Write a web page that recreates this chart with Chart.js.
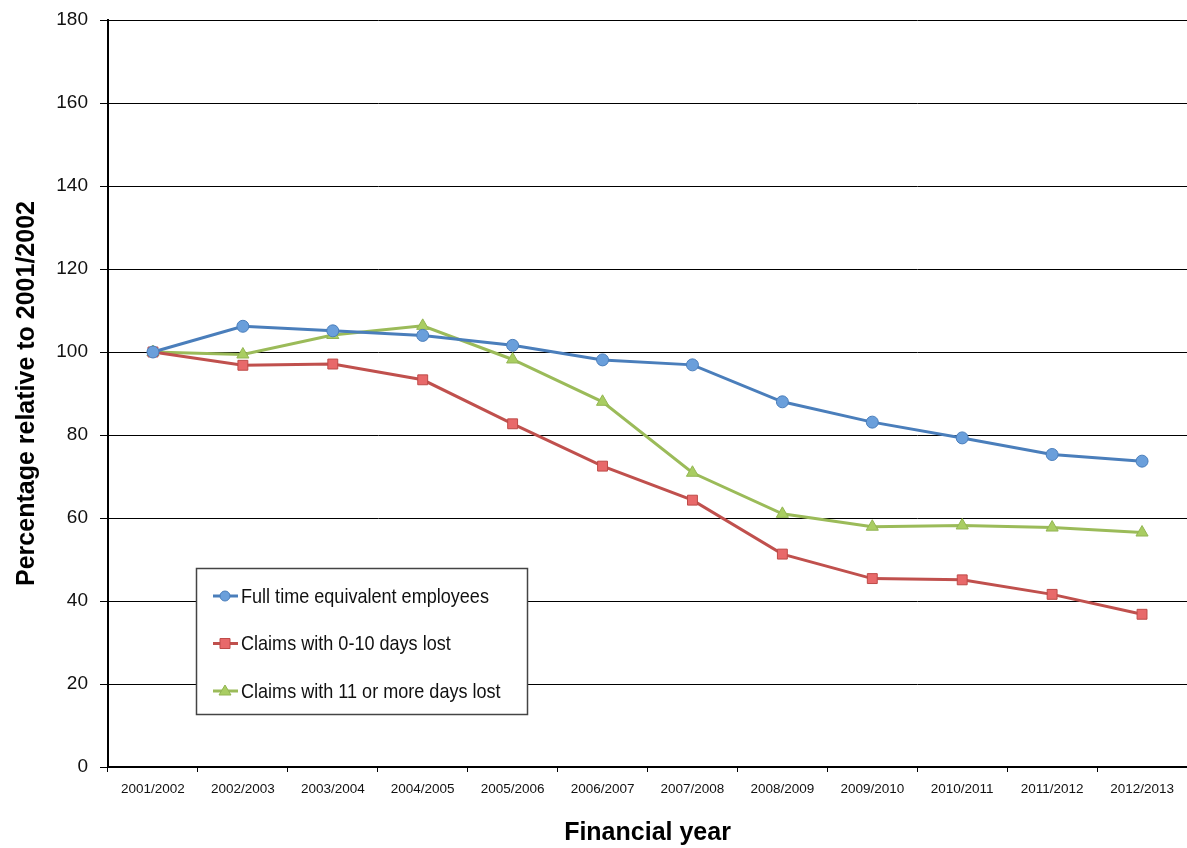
<!DOCTYPE html>
<html>
<head>
<meta charset="utf-8">
<script src="https://cdn.jsdelivr.net/npm/chart.js@4"></script>
<style>
  html, body { margin: 0; padding: 0; background: #fff; }
  #wrap { width: 1187px; height: 848px; }
</style>
</head>
<body>
<div id="wrap"><canvas id="linegraph" width="1187" height="848"></canvas></div>
<script>
// values
var years = ['2001/2002','2002/2003','2003/2004','2004/2005','2005/2006','2006/2007',
             '2007/2008','2008/2009','2009/2010','2010/2011','2011/2012','2012/2013'];
var fte         = [100, 106.2, 105.1, 104.0, 101.6, 98.1, 96.9, 88.0, 83.1, 79.3, 75.3, 73.7];
var shortClaims = [100, 96.8, 97.1, 93.3, 82.7, 72.5, 64.3, 51.3, 45.4, 45.1, 41.6, 36.8];
var longClaims  = [100, 99.4, 104.1, 106.3, 98.2, 88.0, 70.9, 61.0, 57.9, 58.2, 57.7, 56.5];
var yTicks = [0, 20, 40, 60, 80, 100, 120, 140, 160, 180];

var FONT = "'Liberation Sans Narrow', 'Arial Narrow', 'Liberation Sans', Arial, sans-serif";

// legend box drawn inside the plot, like the original
var boxLegend = {
  id: 'boxLegend',
  afterDraw: function(chart) {
    var ctx = chart.ctx, a = chart.chartArea;
    var x = a.left + 88, y = a.top + 548, w = 331, h = 146;
    ctx.save();
    ctx.fillStyle = '#fff';
    ctx.fillRect(x, y, w, h);
    ctx.strokeStyle = '#444';
    ctx.lineWidth = 1.5;
    ctx.strokeRect(x + 0.5, y + 0.5, w, h);
    chart.data.datasets.forEach(function(ds, i) {
      var cy = y + 28 + i * 47.5;
      ctx.strokeStyle = ds.borderColor;
      ctx.lineWidth = 3;
      ctx.beginPath();
      ctx.moveTo(x + 17, cy);
      ctx.lineTo(x + 42, cy);
      ctx.stroke();
      ctx.fillStyle = ds.pointBackgroundColor;
      ctx.strokeStyle = ds.pointBorderColor;
      ctx.lineWidth = 1;
      var mx = x + 29;
      ctx.beginPath();
      if (ds.pointStyle === 'circle') {
        ctx.arc(mx, cy, 5, 0, Math.PI * 2);
      } else if (ds.pointStyle === 'rect') {
        ctx.rect(mx - 5, cy - 5, 10, 10);
      } else {
        ctx.moveTo(mx, cy - 6);
        ctx.lineTo(mx + 6, cy + 4);
        ctx.lineTo(mx - 6, cy + 4);
        ctx.closePath();
      }
      ctx.fill();
      ctx.stroke();
      // squeeze the text a little, the original uses a narrow face
      ctx.save();
      ctx.translate(x + 45, cy + 1);
      ctx.scale(0.86, 1);
      ctx.fillStyle = '#111';
      ctx.font = '21px ' + FONT;
      ctx.textBaseline = 'middle';
      ctx.fillText(ds.label, 0, 0);
      ctx.restore();
    });
    ctx.restore();
  }
};

var chartdata = {
  labels: years,
  datasets: [
    {
      label: 'Full time equivalent employees',
      data: fte,
      borderColor: '#4A7EBB',
      backgroundColor: '#4A7EBB',
      pointBackgroundColor: '#6A9FDB',
      pointBorderColor: '#4A7EBB',
      pointStyle: 'circle',
      pointRadius: 6
    },
    {
      label: 'Claims with 0-10 days lost',
      data: shortClaims,
      borderColor: '#C0504D',
      backgroundColor: '#C0504D',
      pointBackgroundColor: '#E8696A',
      pointBorderColor: '#BE4B48',
      pointStyle: 'rect',
      pointRadius: 7
    },
    {
      label: 'Claims with 11 or more days lost',
      data: longClaims,
      borderColor: '#9BBB59',
      backgroundColor: '#9BBB59',
      pointBackgroundColor: '#A9CD62',
      pointBorderColor: '#93B553',
      pointStyle: 'triangle',
      pointRadius: 7
    }
  ]
};

chartdata.datasets.forEach(function(ds) {
  ds.fill = false;
  ds.tension = 0;
  ds.borderWidth = 3;
  ds.pointBorderWidth = 1;
});

var ctx = document.getElementById('linegraph');
var line = new Chart(ctx, {
  type: 'line',
  data: chartdata,
  plugins: [boxLegend],
  options: {
    responsive: false,
    animation: false,
    layout: { autoPadding: false, padding: { top: 20, right: 0, bottom: 0, left: 0 } },
    plugins: {
      legend: { display: false },
      tooltip: { enabled: false }
    },
    scales: {
      x: {
        offset: true,
        grid: {
          offset: true,
          drawOnChartArea: false,
          drawTicks: true,
          tickLength: 5,
          color: '#000'
        },
        border: { display: true, color: '#000', width: 2 },
        ticks: {
          color: '#111',
          padding: 9,
          maxRotation: 0,
          autoSkip: false,
          font: { family: FONT, size: 13.5 }
        },
        title: {
          display: true,
          text: 'Financial year',
          color: '#000',
          padding: { top: 4, bottom: 0 },
          font: { family: FONT, size: 25, weight: 'bold' }
        },
        afterFit: function(scale) {
          scale.height = 81;
          scale.paddingLeft = 0;
          scale.paddingRight = 0;
        }
      },
      y: {
        min: 0,
        max: 180,
        afterBuildTicks: function(scale) {
          scale.ticks = yTicks.map(function(v) { return { value: v }; });
        },
        grid: {
          color: '#000',
          lineWidth: 1,
          tickLength: 8
        },
        border: { display: true, color: '#000', width: 2 },
        ticks: {
          color: '#111',
          padding: 12,
          font: { family: FONT, size: 19 }
        },
        title: {
          display: true,
          text: 'Percentage relative to 2001/2002',
          color: '#000',
          padding: { top: 12, bottom: 0 },
          font: { family: FONT, size: 25, weight: 'bold' }
        },
        afterFit: function(scale) {
          scale.width = 108;
          scale.paddingTop = 0;
          scale.paddingBottom = 0;
        }
      }
    }
  }
});
</script>
</body>
</html>
